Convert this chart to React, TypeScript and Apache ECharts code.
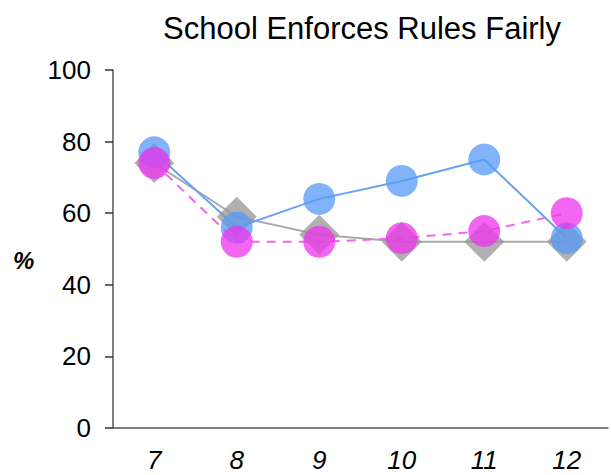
import React, { useEffect, useRef } from "react";
import * as echarts from "echarts";

const grades = ["7", "8", "9", "10", "11", "12"];
const blueSeries = [77, 56, 64, 69, 75, 53];
const graySeries = [74, 59, 54, 52, 52, 52];
const magentaSeries = [74, 52, 52, 53, 55, 60];

const FONT = "'Liberation Sans', Arial, Helvetica, sans-serif";

export default function App() {
  const ref = useRef<HTMLDivElement>(null);
  useEffect(() => {
    const chart = echarts.init(ref.current!, undefined, { renderer: "svg" });
    chart.setOption({
      animation: false,
      backgroundColor: "#ffffff",
      title: {
        text: "School Enforces Rules Fairly",
        left: 357,
        top: 8,
        textAlign: "center",
        textStyle: { fontFamily: FONT, fontSize: 31, fontWeight: "normal", color: "#000" },
      },
      grid: { left: 113, right: 3, top: 70, bottom: 47 },
      xAxis: {
        type: "category",
        data: grades,
        boundaryGap: true,
        axisLine: { lineStyle: { color: "#555", width: 1.5 } },
        axisTick: { alignWithLabel: true, length: 8, lineStyle: { color: "#333", width: 1.5 } },
        axisLabel: { fontFamily: FONT, fontSize: 26, fontStyle: "italic", color: "#000", margin: 19 },
      },
      yAxis: {
        type: "value",
        min: 0,
        max: 100,
        interval: 20,
        splitLine: { show: false },
        axisLine: { show: true, lineStyle: { color: "#555", width: 1.5 } },
        axisTick: { show: true, length: 8, lineStyle: { color: "#333", width: 1.5 } },
        axisLabel: { fontFamily: FONT, fontSize: 26, color: "#000", margin: 22 },
      },
      graphic: [
        {
          type: "text",
          left: 13,
          top: 248,
          style: { text: "%", font: `italic bold 24px ${FONT}`, fill: "#000" },
        },
      ],
      series: [
        {
          type: "line",
          data: graySeries,
          symbol: "diamond",
          symbolSize: 40,
          itemStyle: { color: "rgba(150,150,150,0.75)" },
          lineStyle: { color: "#aaaaaa", width: 2 },
        },
        {
          type: "line",
          data: blueSeries,
          symbol: "circle",
          symbolSize: 32,
          itemStyle: { color: "rgba(85,153,245,0.75)" },
          lineStyle: { color: "#66a3f5", width: 2 },
        },
        {
          type: "line",
          data: magentaSeries,
          symbol: "circle",
          symbolSize: 32,
          itemStyle: { color: "rgba(238,51,238,0.75)" },
          lineStyle: { color: "#f066f0", width: 2, type: [9, 7] },
        },
      ],
    });
    return () => chart.dispose();
  }, []);
  return <div ref={ref} style={{ width: 611, height: 475, position: "absolute", left: 0, top: 0 }} />;
}
